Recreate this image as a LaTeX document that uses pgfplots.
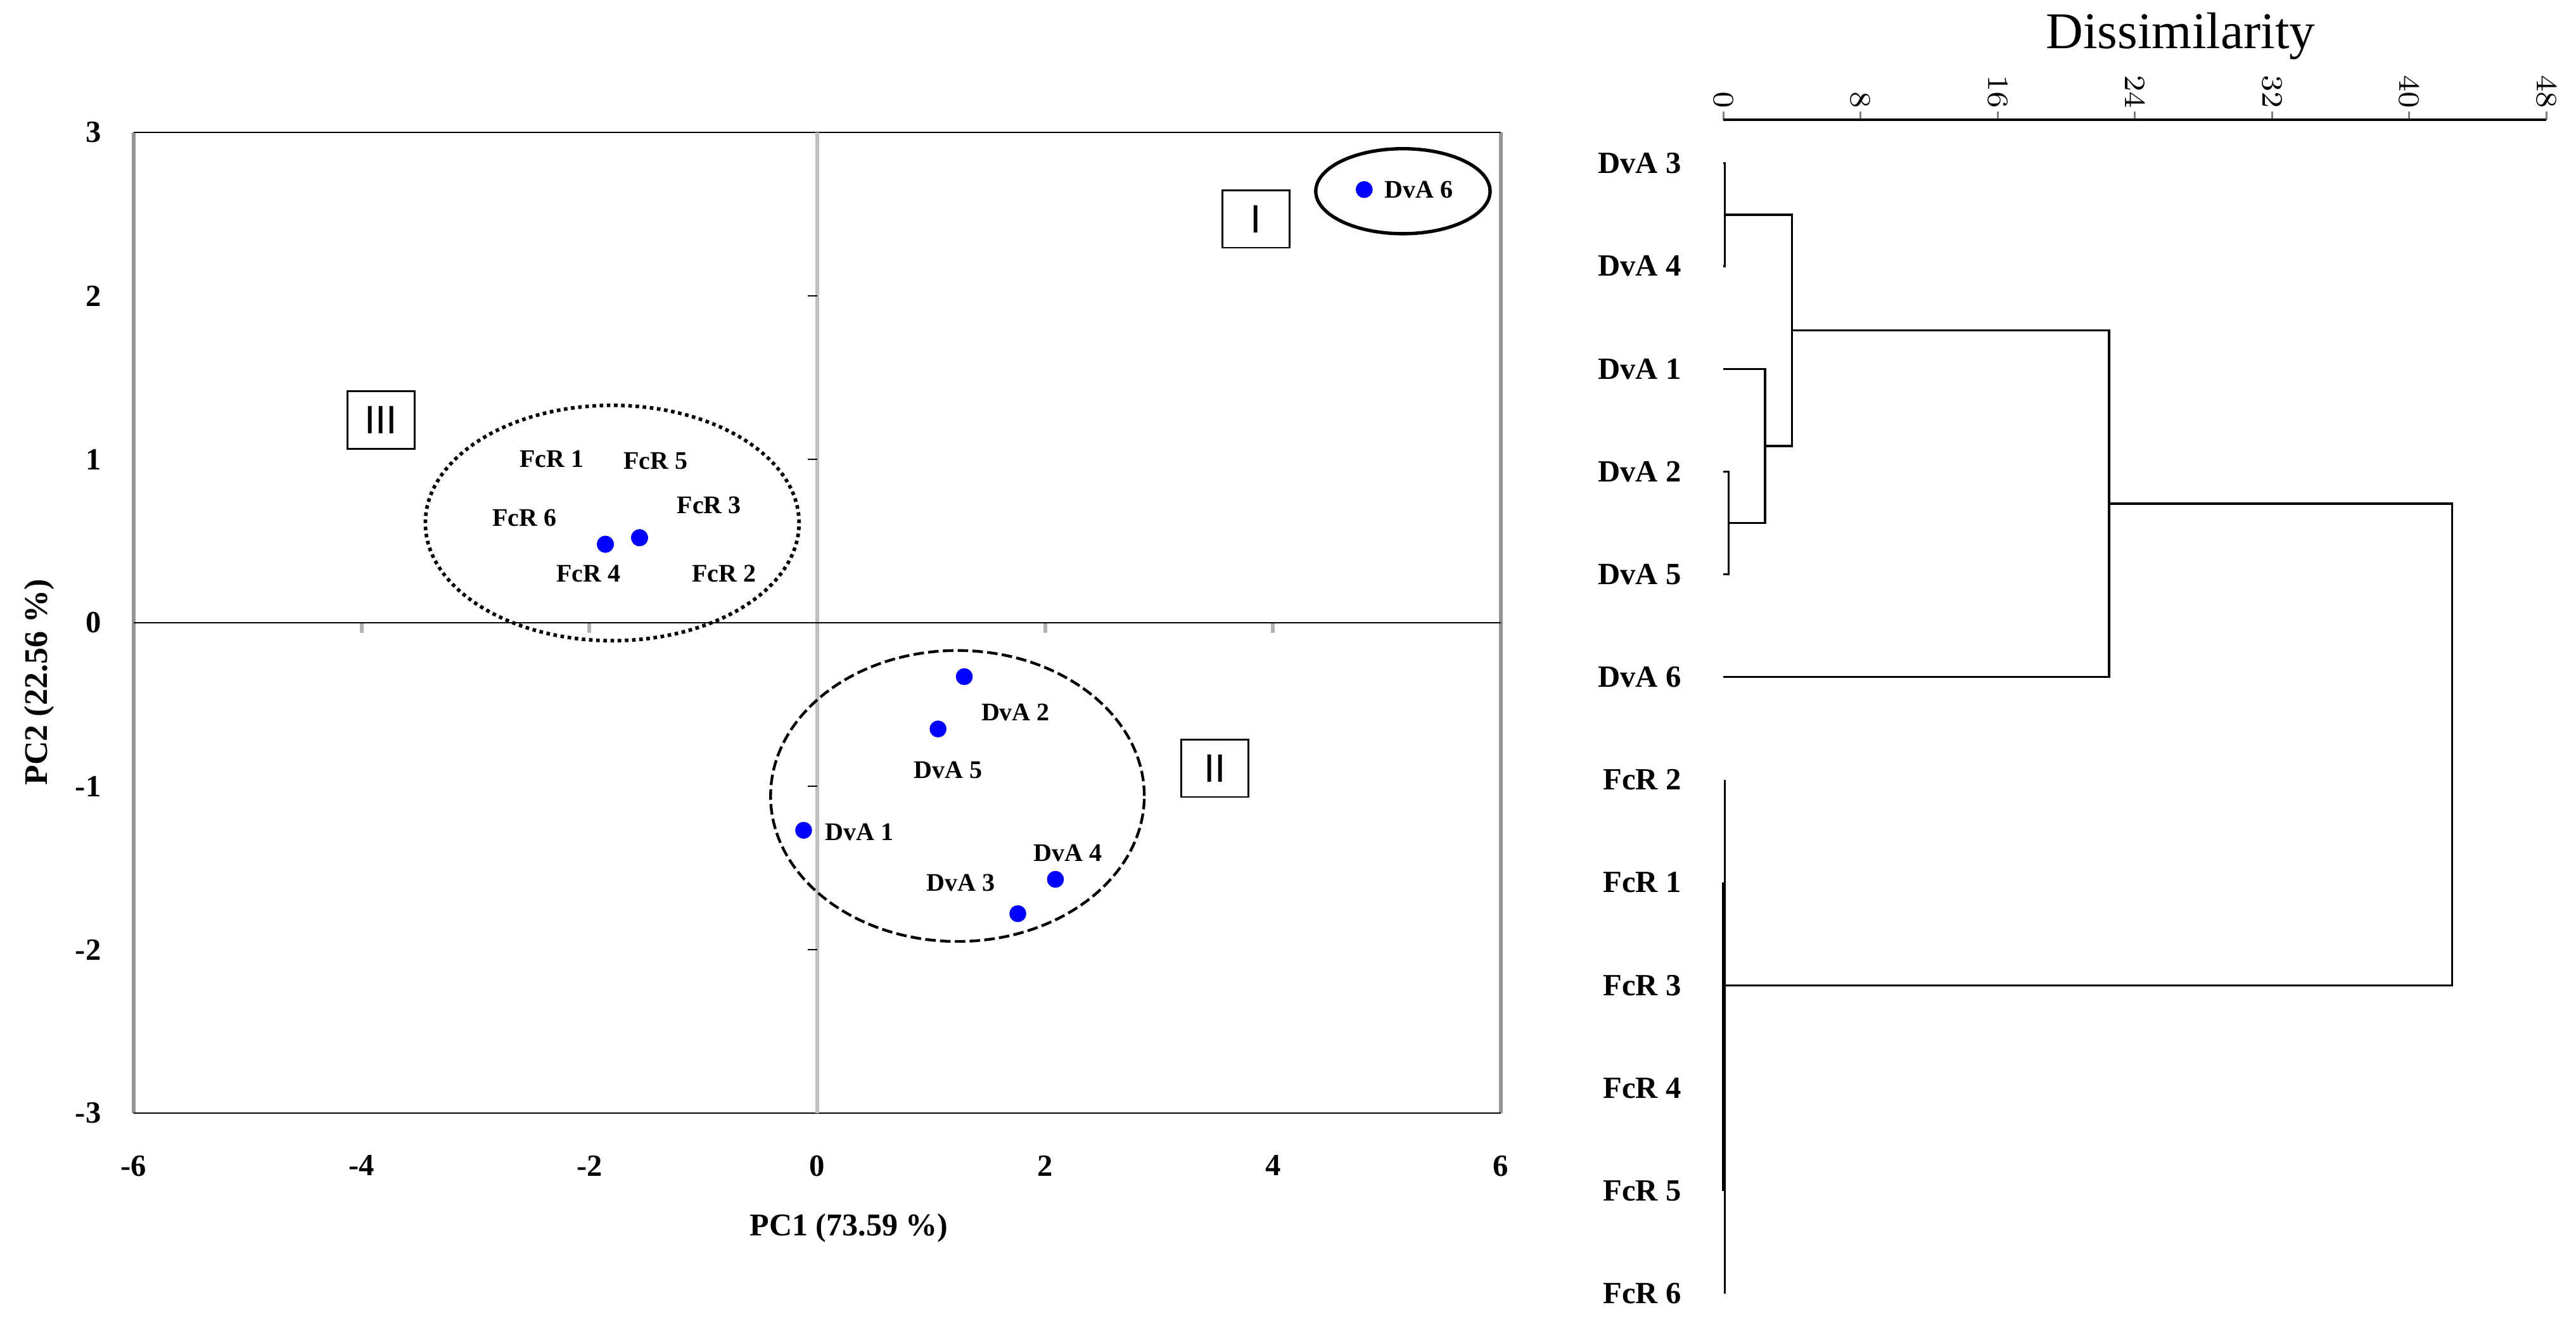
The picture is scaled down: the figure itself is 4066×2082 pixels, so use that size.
\documentclass[border=0pt]{standalone}
\usepackage{fontspec}
\setmainfont{Liberation Serif}
\newfontfamily\arial{Liberation Sans}
\usepackage{pgfplots}
\pgfplotsset{compat=1.18}
\newcommand\fs[1]{\fontsize{#1}{#1}\selectfont}
\begin{document}
% 1 unit = 1 pixel of the 4066x2082 reference (0.15pt), y counted upwards
\begin{tikzpicture}[x=0.15pt, y=0.15pt]
\useasboundingbox (0,0) rectangle (4066,2082);

% ---------------- PCA score plot ----------------
\begin{axis}[
  at={(31.65pt,48.75pt)}, anchor=south west,
  scale only axis, width=323.7pt, height=232.2pt,
  xmin=-6, xmax=6, ymin=-3, ymax=3,
  xtick={-6,-4,...,6}, ytick={-3,...,3},
  xticklabels={-6,-4,-2,0,2,4,6},
  yticklabels={-3,-2,-1,0,1,2,3},
  tick style={draw=none},
  axis line style={draw=none},
  ticklabel style={font=\bfseries\fs{7.3}},
  xticklabel style={anchor=north, yshift=-6.5pt},
  yticklabel style={anchor=east, xshift=-4.2pt},
  clip=false,
]
% frame: black top/bottom, grey sides
\draw[black!42, line width=1pt] (rel axis cs:0,0) -- (rel axis cs:0,1);
\draw[black!42, line width=1pt] (rel axis cs:1,0) -- (rel axis cs:1,1);
\draw[black, line width=0.33pt] (rel axis cs:0,0) -- (rel axis cs:1,0);
\draw[black, line width=0.33pt] (rel axis cs:0,1) -- (rel axis cs:1,1);

% axes through the origin, with their small ticks
\draw[black!25, line width=1pt] (axis cs:0,-3) -- (axis cs:0,3);
\pgfplotsinvokeforeach{-4,-2,2,4}{
  \draw[black!30, line width=0.9pt] (axis cs:#1,0) -- (axis cs:#1,-0.062);
}
\pgfplotsinvokeforeach{-2,-1,1,2}{
  \draw[black, line width=0.3pt] (axis cs:0,#1) -- (axis cs:-0.083,#1);
}
\draw[black, line width=0.35pt] (axis cs:-6,0) -- (axis cs:6,0);

% group outlines
\draw[line width=0.8pt] (axis cs:5.14,2.64) ellipse [x radius=0.765, y radius=0.26];
\draw[line width=0.65pt, dash pattern=on 2.5pt off 1pt] (axis cs:1.23,-1.06) ellipse [x radius=1.64, y radius=0.89];
\draw[line width=0.85pt, dash pattern=on 0.85pt off 0.85pt] (axis cs:-1.80,0.61) ellipse [x radius=1.64, y radius=0.72];

% scores
\addplot[only marks, mark=*, mark size=1.8pt, blue, mark options={draw=blue, fill=blue}] coordinates {
  (-0.12,-1.27) (1.29,-0.33) (1.76,-1.78) (2.09,-1.57) (1.06,-0.65) (4.80,2.65)
  (-1.86,0.48) (-1.56,0.52) (-1.56,0.52) (-1.86,0.48) (-1.56,0.52) (-1.86,0.48)
};

% sample labels
\addplot[draw=none, mark=none, nodes near coords, point meta=explicit symbolic,
  nodes near coords style={anchor=center, inner sep=0pt, font=\bfseries\fs{6}}] coordinates {
  (-2.33,1.00) [FcR 1] (-1.42,0.99) [FcR 5] (-0.95,0.72) [FcR 3]
  (-2.57,0.64) [FcR 6] (-2.01,0.30) [FcR 4] (-0.82,0.30) [FcR 2]
  (5.28,2.65) [DvA 6] (1.74,-0.55) [DvA 2] (1.15,-0.90) [DvA 5]
  (0.37,-1.28) [DvA 1] (2.20,-1.41) [DvA 4] (1.26,-1.59) [DvA 3]
};

% group numbers
\node[draw, line width=0.4pt, minimum width=15.9pt, minimum height=13.6pt, inner sep=0pt,
  font=\arial\fs{9.4}] at (axis cs:3.85,2.47) {I};
\node[draw, line width=0.4pt, minimum width=15.9pt, minimum height=13.6pt, inner sep=0pt,
  font=\arial\fs{9.4}] at (axis cs:3.49,-0.89) {II};
\node[draw, line width=0.4pt, minimum width=15.9pt, minimum height=13.6pt, inner sep=0pt,
  font=\arial\fs{9.4}] at (axis cs:-3.83,1.24) {III};
\end{axis}

\node[font=\bfseries\fs{7.5}, anchor=base] at (1340,131) {PC1 (73.59 \%)};
\node[font=\bfseries\fs{7.8}, rotate=90] at (62,1005) {PC2 (22.56 \%)};

% ---------------- dendrogram ----------------
\begin{axis}[
  at={(408pt,283.95pt)}, anchor=north west,
  scale only axis, width=194.85pt, height=282.8pt,
  xmin=0, xmax=48, ymin=-11.2, ymax=0.425,
  axis x line*=top, axis y line*=left,
  x axis line style={line width=0.6pt},
  y axis line style={draw=none},
  xtick={0,8,...,48}, tick align=outside,
  major tick length=1.95pt,
  xtick style={line width=0.45pt},
  ytick={0,-1,-2,-3,-4,-5,-6,-7,-8,-9,-10,-11},
  ytick style={draw=none},
  yticklabels={DvA 3,DvA 4,DvA 1,DvA 2,DvA 5,DvA 6,FcR 2,FcR 1,FcR 3,FcR 4,FcR 5,FcR 6},
  yticklabel style={font=\bfseries\fs{7.3}, anchor=east, xshift=-4.5pt},
  xticklabel style={font=\bfseries\fs{7.3}, rotate=-90, anchor=east, inner sep=0.5pt},
  clip=false,
]
\addplot[black, line width=0.5pt] coordinates {(0,0) (0.1,0) (0.1,-1) (0,-1)};
\addplot[black, line width=0.5pt] coordinates {(0,-3) (0.3,-3) (0.3,-4) (0,-4)};
\addplot[black, line width=0.5pt] coordinates {(0,-2) (2.44,-2) (2.44,-3.5) (0.3,-3.5)};
\addplot[black, line width=0.5pt] coordinates {(0.1,-0.5) (4.0,-0.5) (4.0,-2.75) (2.44,-2.75)};
\addplot[black, line width=0.5pt] coordinates {(4.0,-1.625) (22.5,-1.625) (22.5,-5) (0,-5)};
\addplot[black, line width=0.5pt] coordinates {(0.08,-6) (0.08,-11)};
\addplot[black, line width=0.5pt] coordinates {(0,-7) (0,-10)};
\addplot[black, line width=0.5pt] coordinates {(0.08,-8) (42.5,-8) (42.5,-3.3125) (22.5,-3.3125)};
\end{axis}

\node[font=\fs{12.2}, anchor=base] at (3442,2005) {Dissimilarity};
\end{tikzpicture}
\end{document}
